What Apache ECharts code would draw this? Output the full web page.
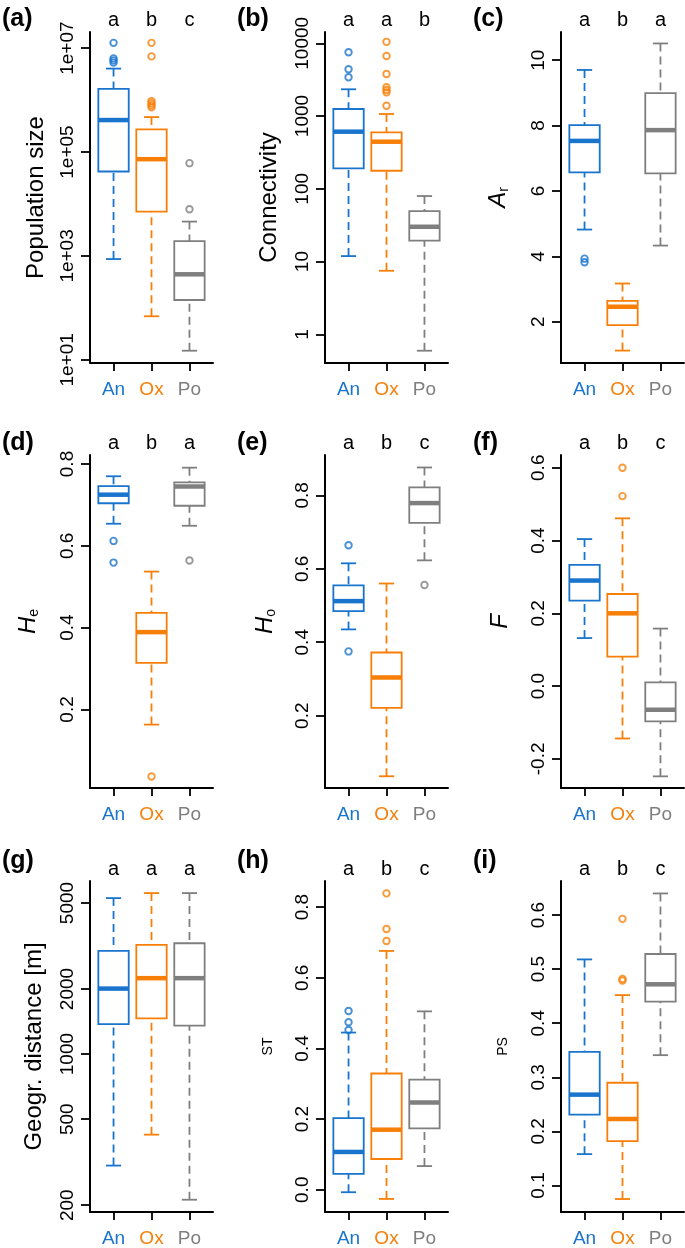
<!DOCTYPE html>
<html><head><meta charset="utf-8">
<script src="https://cdn.jsdelivr.net/npm/echarts@6/dist/echarts.min.js"></script>
<style>html,body{margin:0;padding:0;background:#fff}#chart{width:685px;height:1248px}</style>
</head><body><div id="chart"></div>
<script>
// ---------- data ----------
const groups = ['An', 'Ox', 'Po'];
const groupColors = ['#1874CD', '#F77F08', '#7F7F7F'];

// box statistics per group: [lower whisker, Q1, median, Q3, upper whisker]
const popSize = [[871, 42170, 412000, 1640000, 4030000], [69, 7130, 72800, 273500, 470000], [15, 142, 443, 1923, 4580]];
const popSizeOut = [[5250000, 5750000, 6310000, 12600000], [724000, 794000, 871000, 955000, 6920000, 12600000], [7890, 61000]];
const popSizeLetters = ['a', 'b', 'c'];
const popSizeTicks = [10, 1000, 100000, 10000000];
const popSizeTickLabels = ['1e+01', '1e+03', '1e+05', '1e+07'];

const connect = [[11.9, 191, 610, 1250, 2333], [7.48, 177, 444, 598, 1067], [0.596, 19.4, 30.1, 49.5, 79.6]];
const connectOut = [[3410, 4395, 7516], [1387, 2118, 2280, 2483, 3784, 6683, 10470], []];
const connectLetters = ['a', 'a', 'b'];
const connectTicks = [1, 10, 100, 1000, 10000];
const connectTickLabels = ['1', '10', '100', '1000', '10000'];

const allelicRich = [[4.82, 6.57, 7.53, 8.01, 9.70], [1.12, 1.90, 2.46, 2.64, 3.17], [4.33, 6.54, 7.86, 8.99, 10.51]];
const allelicRichOut = [[3.82, 3.93], [], []];
const allelicRichLetters = ['a', 'b', 'a'];
const allelicRichTicks = [2, 4, 6, 8, 10];
const allelicRichTickLabels = ['2', '4', '6', '8', '10'];

const expHet = [[0.654, 0.704, 0.725, 0.746, 0.770], [0.163, 0.314, 0.389, 0.436, 0.537], [0.649, 0.698, 0.745, 0.755, 0.791]];
const expHetOut = [[0.559, 0.612], [0.036], [0.564]];
const expHetLetters = ['a', 'b', 'a'];
const expHetTicks = [0.2, 0.4, 0.6, 0.8];
const expHetTickLabels = ['0.2', '0.4', '0.6', '0.8'];

const obsHet = [[0.435, 0.485, 0.512, 0.555, 0.615], [0.035, 0.221, 0.304, 0.372, 0.560], [0.623, 0.725, 0.779, 0.822, 0.876]];
const obsHetOut = [[0.375, 0.664], [], [0.556]];
const obsHetLetters = ['a', 'b', 'c'];
const obsHetTicks = [0.2, 0.4, 0.6, 0.8];
const obsHetTickLabels = ['0.2', '0.4', '0.6', '0.8'];

const inbreeding = [[0.132, 0.235, 0.290, 0.333, 0.404], [-0.144, 0.081, 0.200, 0.253, 0.461], [-0.248, -0.097, -0.065, 0.010, 0.158]];
const inbreedingOut = [[], [0.522, 0.600], []];
const inbreedingLetters = ['a', 'b', 'c'];
const inbreedingTicks = [-0.2, 0, 0.2, 0.4, 0.6];
const inbreedingTickLabels = ['-0.2', '0.0', '0.2', '0.4', '0.6'];

const geoDist = [[305, 1377, 2010, 3006, 5270], [424, 1463, 2246, 3199, 5560], [212, 1356, 2246, 3258, 5560]];
const geoDistOut = [[], [], []];
const geoDistLetters = ['a', 'a', 'a'];
const geoDistTicks = [200, 500, 1000, 2000, 5000];
const geoDistTickLabels = ['200', '500', '1000', '2000', '5000'];

const fst = [[-0.007, 0.045, 0.107, 0.203, 0.445], [-0.026, 0.087, 0.170, 0.329, 0.676], [0.067, 0.174, 0.247, 0.312, 0.505]];
const fstOut = [[0.452, 0.474, 0.506], [0.704, 0.738, 0.839], []];
const fstLetters = ['a', 'b', 'c'];
const fstTicks = [0, 0.2, 0.4, 0.6, 0.8];
const fstTickLabels = ['0.0', '0.2', '0.4', '0.6', '0.8'];

const pst = [[0.158, 0.231, 0.268, 0.347, 0.518], [0.075, 0.182, 0.223, 0.290, 0.452], [0.341, 0.440, 0.472, 0.528, 0.640]];
const pstOut = [[], [0.479, 0.482, 0.593], []];
const pstLetters = ['a', 'b', 'c'];
const pstTicks = [0.1, 0.2, 0.3, 0.4, 0.5, 0.6];
const pstTickLabels = ['0.1', '0.2', '0.3', '0.4', '0.5', '0.6'];

// ---------- panel setup ----------
const panels = [
  {tag: '(a)', stats: popSize, out: popSizeOut, letters: popSizeLetters, ticks: popSizeTicks, tickLabels: popSizeTickLabels, log: true, range: [8.7, 2.04e7], name: 'Population size', gap: 42},
  {tag: '(b)', stats: connect, out: connectOut, letters: connectLetters, ticks: connectTicks, tickLabels: connectTickLabels, log: true, range: [0.404, 14290], name: 'Connectivity', gap: 44},
  {tag: '(c)', stats: allelicRich, out: allelicRichOut, letters: allelicRichLetters, ticks: allelicRichTicks, tickLabels: allelicRichTickLabels, log: false, range: [0.74, 10.86], name: '{i|A}{s|r}', gap: 51, rich: true},
  {tag: '(d)', stats: expHet, out: expHetOut, letters: expHetLetters, ticks: expHetTicks, tickLabels: expHetTickLabels, log: false, range: [0.008, 0.822], name: '{i|H}{s|e}', gap: 50, rich: true},
  {tag: '(e)', stats: obsHet, out: obsHetOut, letters: obsHetLetters, ticks: obsHetTicks, tickLabels: obsHetTickLabels, log: false, range: [0.003, 0.91], name: '{i|H}{s|o}', gap: 48, rich: true},
  {tag: '(f)', stats: inbreeding, out: inbreedingOut, letters: inbreedingLetters, ticks: inbreedingTicks, tickLabels: inbreedingTickLabels, log: false, range: [-0.28, 0.635], name: '{i|F}', gap: 49, rich: true},
  {tag: '(g)', stats: geoDist, out: geoDistOut, letters: geoDistLetters, ticks: geoDistTicks, tickLabels: geoDistTickLabels, log: true, range: [186, 6324], name: 'Geogr. distance [m]', gap: 44},
  {tag: '(h)', stats: fst, out: fstOut, letters: fstLetters, ticks: fstTicks, tickLabels: fstTickLabels, log: false, range: [-0.063, 0.874], name: 'ST', gap: 50, small: true},
  {tag: '(i)', stats: pst, out: pstOut, letters: pstLetters, ticks: pstTicks, tickLabels: pstTickLabels, log: false, range: [0.051, 0.663], name: 'PS', gap: 51, small: true}
];

const colLeft = [90, 325, 561];
const colWidth = 123;
const rowTop = [32, 455, 881];
const rowHeight = [331, 333, 335];
const tagLeft = [2, 237, 473];
const tagTop = [7, 431, 849];
const FONT = '"Liberation Sans", Arial, Helvetica, sans-serif';

const tf = (p, v) => p.log ? Math.log10(v) : v;

const grid = [], xAxis = [], yAxis = [], series = [], title = [];

function renderBox(params, api) {
  const gi = api.value(0);
  const c = groupColors[gi - 1];
  const cx = api.coord([gi, api.value(3)])[0];
  const y = [1, 2, 3, 4, 5].map(k => api.coord([gi, api.value(k)])[1]);
  const bw = api.size([0.8, 0])[0];
  const sw = api.size([0.4, 0])[0];
  const lw = 1.8;
  const dash = [8, 5];
  return {
    type: 'group',
    children: [
      {type: 'line', shape: {x1: cx, y1: y[0], x2: cx, y2: y[1]}, style: {stroke: c, lineWidth: lw, lineDash: dash, fill: null}},
      {type: 'line', shape: {x1: cx, y1: y[4], x2: cx, y2: y[3]}, style: {stroke: c, lineWidth: lw, lineDash: dash, fill: null}},
      {type: 'line', shape: {x1: cx - sw / 2, y1: y[0], x2: cx + sw / 2, y2: y[0]}, style: {stroke: c, lineWidth: lw, fill: null}},
      {type: 'line', shape: {x1: cx - sw / 2, y1: y[4], x2: cx + sw / 2, y2: y[4]}, style: {stroke: c, lineWidth: lw, fill: null}},
      {type: 'rect', shape: {x: cx - bw / 2, y: y[3], width: bw, height: y[1] - y[3]}, style: {fill: '#fff', stroke: c, lineWidth: lw}},
      {type: 'line', shape: {x1: cx - bw / 2, y1: y[2], x2: cx + bw / 2, y2: y[2]}, style: {stroke: c, lineWidth: 4.5, fill: null}}
    ]
  };
}

panels.forEach((p, i) => {
  const col = i % 3, row = Math.floor(i / 3);
  grid.push({left: colLeft[col], top: rowTop[row], width: colWidth, height: rowHeight[row], containLabel: false});
  const richX = {};
  groups.forEach((g, k) => { richX['g' + (k + 1)] = {color: groupColors[k], fontSize: 19, fontFamily: FONT}; });
  // bottom category labels
  xAxis.push({
    type: 'value', gridIndex: i, min: 0.38, max: 3.62, position: 'bottom',
    splitLine: {show: false},
    axisLine: {show: true, onZero: false, lineStyle: {color: '#000', width: 2}},
    axisTick: {show: true, length: 8, lineStyle: {color: '#000', width: 1.8}, customValues: [1, 2, 3]},
    axisLabel: {show: true, margin: 17, customValues: [1, 2, 3], fontSize: 19, fontFamily: FONT,
      formatter: v => { const k = Math.round(v); return '{g' + k + '|' + groups[k - 1] + '}'; }, rich: richX}
  });
  // top significance letters
  xAxis.push({
    type: 'value', gridIndex: i, min: 0.38, max: 3.62, position: 'top',
    splitLine: {show: false}, axisLine: {show: false}, axisTick: {show: false},
    axisLabel: {show: true, margin: 2, customValues: [1, 2, 3], fontSize: 20, color: '#000', fontFamily: FONT,
      formatter: v => p.letters[Math.round(v) - 1]}
  });
  const tickT = p.ticks.map(t => tf(p, t));
  const nameStyle = p.small
    ? {fontSize: 14, color: '#000', fontFamily: FONT}
    : {fontSize: 24, color: '#000', fontFamily: FONT,
       rich: {i: {fontSize: 24, fontStyle: 'italic', fontFamily: FONT, color: '#000', lineHeight: 24},
              s: {fontSize: 14, fontFamily: FONT, color: '#000', lineHeight: 14, padding: [13, 0, 0, 0]}}};
  yAxis.push({
    type: 'value', gridIndex: i, min: tf(p, p.range[0]), max: tf(p, p.range[1]),
    name: p.name, nameLocation: 'middle', nameRotate: 90, nameGap: p.gap, nameTextStyle: nameStyle,
    nameMoveOverlap: false,
    splitLine: {show: false},
    axisLine: {show: true, onZero: false, lineStyle: {color: '#000', width: 2}},
    axisTick: {show: true, length: 9, lineStyle: {color: '#000', width: 1.8}, customValues: tickT},
    axisLabel: {show: true, rotate: 90, margin: 13, fontSize: 19, color: '#000', fontFamily: FONT, customValues: tickT,
      formatter: v => { const k = tickT.findIndex(t => Math.abs(t - v) < 1e-6); return k >= 0 ? p.tickLabels[k] : ''; }}
  });
  series.push({
    type: 'custom', xAxisIndex: 2 * i, yAxisIndex: i, renderItem: renderBox, clip: false,
    encode: {x: 0, y: [1, 2, 3, 4, 5]},
    data: p.stats.map((s, k) => [k + 1].concat(s.map(v => tf(p, v))))
  });
  const outData = [];
  p.out.forEach((arr, k) => arr.forEach(v => outData.push({value: [k + 1, tf(p, v)], itemStyle: {color: 'rgba(0,0,0,0)', borderColor: groupColors[k], borderWidth: 1.9}})));
  series.push({
    type: 'scatter', xAxisIndex: 2 * i, yAxisIndex: i, symbol: 'circle', symbolSize: 6.5, z: 5,
    data: outData
  });
  title.push({text: p.tag, left: tagLeft[col], top: tagTop[row], padding: 0,
    textStyle: {fontSize: 25, fontWeight: 'bold', color: '#000', fontFamily: FONT}});
});

const chart = echarts.init(document.getElementById('chart'), null, {renderer: 'canvas'});
chart.setOption({animation: false, backgroundColor: '#fff', title, grid, xAxis, yAxis, series});
</script>
</body></html>
